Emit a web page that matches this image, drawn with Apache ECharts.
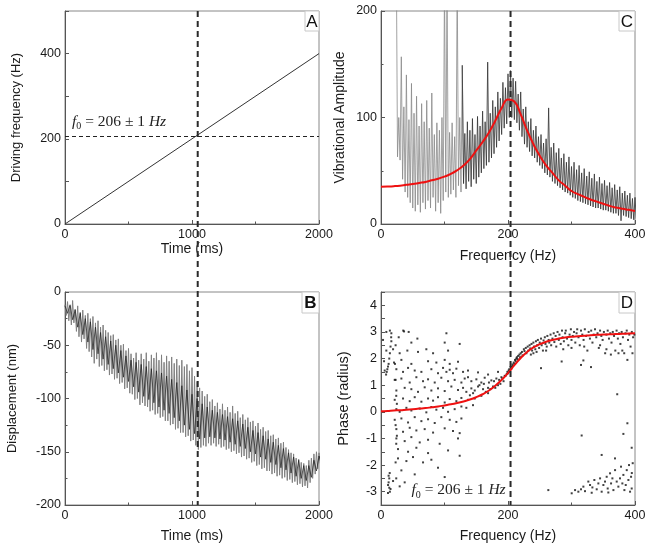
<!DOCTYPE html>
<html><head><meta charset="utf-8">
<script src="https://cdn.jsdelivr.net/npm/echarts@6/dist/echarts.min.js"></script>
<style>html,body{margin:0;padding:0;background:#fff}#c{width:649px;height:549px}</style>
</head><body><div id="c"></div>
<script>
// ---------- DATA ----------
// Panel A: linear frequency sweep
const aSweep = [[0, 0], [2000, 400]];
const f0Hz = 206;           // resonance, horizontal dashed line in A
const markTime = 1045;      // vertical dashed line (ms) in A/B
const markFreq = 204;       // vertical dashed line (Hz) in C/D

// Panel B: displacement signal, outer upper / lower swings every bStep ms
const bStep = 20;
const bUpper = [-12,-9,-13,-8,-16,-13,-19,-17,-22,-20,-25,-23,-29,-27,-33,-31,-36,-38,-41,-40,
  -45,-44,-50,-49,-55,-53,-58,-62,-57,-64,-58,-63,-57,-65,-59,-62,-57,-64,-59,-66,
  -60,-65,-61,-67,-63,-69,-64,-70,-68,-74,-71,-79,-84,-90,-93,-98,-96,-103,-101,-107,
  -104,-110,-105,-111,-108,-113,-107,-114,-112,-118,-115,-120,-118,-122,-121,-126,-123,-129,-127,-131,
  -130,-135,-134,-138,-137,-142,-141,-146,-148,-151,-152,-156,-157,-160,-161,-163,-158,-156,-152,-150,-151];
const bLower = [-22,-27,-31,-29,-37,-42,-47,-44,-53,-56,-61,-67,-63,-70,-69,-74,-73,-78,-77,-82,
  -81,-86,-85,-91,-90,-95,-96,-101,-100,-106,-104,-107,-108,-112,-111,-115,-114,-118,-117,-121,
  -121,-125,-124,-129,-128,-132,-132,-136,-135,-140,-139,-144,-148,-146,-144,-145,-142,-144,-142,-145,
  -143,-146,-145,-148,-147,-150,-149,-152,-151,-155,-154,-157,-156,-160,-159,-163,-162,-166,-165,-168,
  -168,-171,-170,-173,-172,-175,-174,-177,-176,-179,-178,-181,-180,-183,-182,-184,-179,-175,-171,-166,-161];
// Panel B: darker inner core swings every bCoreStep ms
const bCoreStep = 40;
const bCoreUpper = [-13,-12,-17,-20,-25,-28,-33,-38,-42,-46,-50,-55,-60,-64,-66,-68,-70,-72,-74,-76,
  -79,-82,-85,-88,-92,-96,-100,-105,-108,-111,-113,-115,-117,-119,-121,-124,-127,-130,-132,-135,
  -138,-141,-144,-147,-151,-155,-158,-163,-163,-158,-154];
const bCoreLower = [-20,-26,-33,-40,-47,-54,-58,-63,-68,-72,-76,-80,-84,-89,-94,-98,-101,-104,-108,-111,
  -114,-118,-121,-125,-129,-133,-138,-137,-136,-137,-138,-139,-141,-143,-145,-147,-150,-152,-155,-157,
  -160,-162,-165,-167,-170,-173,-175,-177,-174,-168,-162];

// Panel C: amplitude spectrum, upper / lower swings every cStep Hz from cStart
const cStart = 24, cStep = 4;
const cUpper = [260,100,157,110,140,98,132,104,120,92,113,96,116,90,123,84,95,88,100,
  230,230,86,95,82,230,100,149,85,96,88,99,84,101,92,106,96,152,104,116,110,124,118,133,128,
  141,144,137,134,122,124,108,110,96,99,88,92,82,84,76,80,109,72,76,67,71,62,66,58,63,
  54,58,51,55,48,52,45,49,43,47,40,44,38,41,36,39,34,37,32,35,29,31,27,29,24,
  25];
const cLower = [63,60,42,30,25,20,15,12,18,11,20,14,22,15,25,12,20,10,22,
  30,25,28,32,25,36,30,38,33,40,35,42,38,44,48,52,55,58,62,66,72,78,84,90,94,
  100,100,98,95,88,82,75,72,68,64,62,58,55,52,48,46,44,40,38,36,34,32,30,29,27,
  25,24,22,21,20,19,18,17,16,15,15,14,13,13,12,11,10,10,8,3,8,7,6,5,4,
  5];
const cLightCount = 27;     // swings drawn in lighter grey (low-frequency part)
// Panel C: fitted resonance curve every 10 Hz from 0 to 400
const cFitStep = 10;
const cFit = [35,35.2,35.5,36,36.8,37.5,38.5,39.5,41,42.5,44.5,47,50.5,55,61,69,77,86,97,109,
  117,115,103,88,75,64,55,48,41,36,31,28,25.5,23,21,19,17,15.5,14.3,13.3,12.3];

// Panel D: phase scatter [Hz, rad]
const dPoints = [
  [8.4,3.0],[16.3,2.95],[36.3,3.02],[43.6,3.0],[103,2.95],[14,3.05],[35,3.05],
  [3.2,2.7],[16.3,2.65],[27.9,2.8],[47.8,2.6],[57.3,2.75],[100.3,2.6],[123.9,2.55],
  [8.4,2.3],[19,2.35],[29.4,2.2],[41.5,2.3],[58.3,2.25],[71.4,2.35],[82,2.2],[105.6,2.3],
  [4.8,1.9],[20.5,1.85],[32.1,1.95],[47.8,1.8],[74.1,1.9],[87.2,1.85],[100.3,1.95],[108.2,1.8],[121.3,1.88],
  [5.8,1.55],[24.2,1.6],[34.7,1.5],[42.6,1.65],[53.1,1.55],[63.6,1.5],[79.3,1.6],[89.8,1.45],[97.7,1.65],[103,1.5],
  [108.2,1.58],[113.4,1.45],[118.7,1.62],[129.2,1.5],[137,1.55],[152.8,1.48],[168.6,1.4],[184.3,1.5],
  [21.6,1.2],[32.1,1.25],[45.2,1.1],[55.7,1.3],[66.2,1.15],[74.1,1.22],[84.6,1.1],[95,1.28],[105.6,1.15],[116,1.2],
  [126.6,1.1],[131.8,1.25],[137,1.3],[142.3,1.15],[150.2,1.22],[158,1.1],[163.3,1.28],[173.8,1.18],[181.7,1.25],[189.6,1.3],[194.8,1.35],
  [24.2,0.8],[37.3,0.9],[47.8,0.85],[58.3,0.75],[68.8,0.92],[79.3,0.8],[89.8,0.88],[100.3,0.78],[110.8,0.95],[121.3,0.82],
  [129.2,0.9],[134.4,0.75],[142.3,0.88],[147.6,0.8],[152.8,0.95],[160.7,0.85],[168.6,0.9],[176.4,0.95],[184.3,1.0],
  [21.6,0.45],[34.7,0.5],[45.2,0.4],[53.1,0.55],[63.6,0.38],[74.1,0.5],[82,0.42],[89.8,0.55],[100.3,0.35],[108.2,0.48],
  [118.7,0.4],[126.6,0.52],[137,0.45],[147.6,0.5],[158,0.6],[168.6,0.7],
  [24.2,0.1],[29.4,0.0],[40,0.15],[47.8,0.05],[61,0.12],[71.4,-0.02],[79.3,0.18],[87.2,0.08],[97.7,0.15],[105.6,0.0],
  [116,0.1],[126.6,0.2],[134.4,0.15],[144.9,0.25],
  [21.6,-0.3],[32.1,-0.25],[42.6,-0.4],[53.1,-0.2],[63.6,-0.35],[74.1,-0.28],[84.6,-0.42],[95,-0.2],[108.2,-0.3],[118.7,-0.38],[126.6,-0.25],
  [24.2,-0.65],[34.7,-0.75],[45.2,-0.6],[55.7,-0.7],[68.8,-0.65],[82,-0.78],[100.3,-0.62],[113.4,-0.72],[123.9,-0.8],
  [24.2,-1.0],[37.3,-1.1],[47.8,-0.95],[61,-1.15],[74.1,-1.05],[92.4,-1.2],[121.3,-1.0],
  [26.8,-1.4],[42.6,-1.5],[55.7,-1.35],[74.1,-1.55],[105.6,-1.45],
  [26.8,-1.75],[40,-1.85],[50.4,-1.7],[66.2,-1.9],[79.3,-1.8],[123.9,-1.65],
  [13.7,-2.3],[32.1,-2.2],[53.1,-2.35],[89.8,-2.1],[100.3,-2.45],
  [11.1,-2.75],[19,-2.6],[29.4,-2.8],[37.3,-2.65],
  [8,1.4],[9,1.5],[10,1.6],[11,1.7],[12,1.8],[13,2.0],[14,2.2],[15,2.45],[16,2.8],
  [12,-2.4],[13,-2.5],[12,-2.65],[13,-2.85],[14,-3.0],[15,-2.9],[11,-3.05],
  [23,2.5],[23,1.2],[24,0.6],[23,-0.5],[24,-1.2],[23,-1.9],[24,-2.5],[25,0.3],[22,1.8],[25,-0.9],
  [155,1.0],[162,1.05],[170,1.1],[178,1.15],[186,1.2],[191,1.25],[165,0.75],[172,0.85],[180,0.9],[188,1.05],[193,1.15],[145,0.7],[140,0.62],
  [196,1.35],[198,1.42],[199,1.5],[200,1.45],[201,1.55],[202,1.6],[203,1.52],[204,1.68],[205,1.62],[206,1.7],[207,1.78],[208,1.72],
  [209,1.85],[210,1.8],[211,1.95],[212,1.9],[213,2.0],[214,2.05],[215,1.98],[216,2.1],[218,2.15],[219,2.05],[220,2.2],[222,2.25],
  [223,2.12],[225,2.35],[226,2.28],[228,2.4],[229,2.2],[231,2.45],[232,2.3],[234,2.5],[235,2.38],[237,2.55],[238,2.3],[240,2.6],
  [241,2.45],[243,2.35],[244,2.65],[246,2.5],[247,2.7],[249,2.4],[250,2.6],[252,2.75],[253,2.5],[255,2.3],[256,2.68],[258,2.8],
  [259,2.55],[261,2.45],[262,2.85],[264,2.7],[265,2.6],[267,2.9],[268,2.5],[270,2.75],[272,2.95],[273,2.62],[275,2.85],[276,2.45],
  [278,3.0],[280,2.7],[281,2.9],[283,2.55],[285,3.05],[286,2.8],[288,2.65],[290,2.95],[291,3.05],[293,2.75],[295,2.5],[297,2.9],
  [299,3.1],[300,2.7],[302,2.85],[304,3.0],[306,2.6],[308,2.95],[309,3.1],[311,2.8],[313,2.5],[315,3.05],[317,2.9],[319,2.7],
  [321,3.1],[323,2.85],[325,2.3],[327,3.0],[329,2.75],[331,3.05],[333,2.6],[335,2.9],[337,3.1],[339,2.8],[341,2.95],[343,2.4],
  [345,3.05],[347,2.85],[349,2.7],[351,3.0],[353,2.2],[355,2.9],[357,3.05],[359,2.75],[361,2.95],[363,2.6],[365,3.0],[367,2.85],
  [369,2.3],[371,3.05],[373,2.75],[375,2.95],[377,2.55],[379,3.0],[381,2.8],[383,2.2],[385,2.95],[387,3.05],[389,2.7],[391,2.9],
  [393,2.45],[395,3.0],[397,2.8],[399,2.9],[396,2.2],[240,2.2],[236,2.15],[245,2.25],[260,2.3],[287,2.35],[300,2.4],[320,2.45],
  [345,2.5],[355,2.35],[362,2.15],[374,2.2],[388,1.95],[380,2.3],
  [252,1.64],[284.5,1.89],[318.7,1.93],[330.7,1.68],[315,1.76],[372,0.66],[316,-0.89],[381.7,-0.83],[388,-0.43],[394.8,-1.35],
  [347.5,-1.62],[368.5,-1.75],[263.5,-2.94],[395,-2.3],
  [300.3,-3.06],[305.6,-2.94],[310.8,-3.0],[315,-2.91],[318.7,-2.81],[321.3,-2.98],[326.5,-2.62],[329.2,-2.75],[332.9,-2.84],
  [336,-2.56],[339.7,-2.91],[342.3,-2.69],[345,-2.5],[347.5,-3.0],[350.2,-2.75],[352.8,-2.62],[355.4,-2.44],[357,-2.88],
  [360.7,-2.31],[362.3,-2.69],[366,-2.94],[368.6,-2.19],[371.2,-2.62],[373.8,-2.81],[376.4,-2.5],[378,-2.06],[381.7,-2.37],
  [383.3,-2.94],[385.4,-2.75],[387,-2.19],[389.6,-2.56],[390.6,-2.0],[393.8,-2.44],[394.8,-2.88],[396.4,-1.93],[392.2,-3.0],
  [380.1,-2.69],[364.4,-2.5],[358,-3.03],[331.8,-3.04]
];
// Panel D: fitted phase curve every 10 Hz from 0 to 400
const dFitStep = 10;
const dFit = [0.02,0.03,0.05,0.06,0.08,0.1,0.12,0.14,0.17,0.2,0.24,0.28,0.33,0.39,0.46,0.55,0.66,0.8,0.98,1.2,
  1.45,1.75,2.02,2.25,2.42,2.54,2.63,2.7,2.75,2.79,2.82,2.84,2.86,2.88,2.89,2.9,2.91,2.92,2.93,2.94,2.95];

// ---------- BUILD SERIES DATA ----------
function zigzag(upper, lower, start, step) {
  const out = [];
  upper.forEach((u, i) => { const x = start + i * step; out.push([x, u]); out.push([x + step / 2, lower[i]]); });
  return out;
}
const bData = zigzag(bUpper, bLower, 0, bStep);
const bCoreData = zigzag(bCoreUpper, bCoreLower, 0, bCoreStep);
const cLightData = zigzag(cUpper.slice(0, cLightCount), cLower.slice(0, cLightCount), cStart, cStep);
const cDarkData = zigzag(cUpper.slice(cLightCount - 1), cLower.slice(cLightCount - 1),
  cStart + (cLightCount - 1) * cStep, cStep);
const cFitData = cFit.map((v, i) => [i * cFitStep, v]);
const dFitData = dFit.map((v, i) => [i * dFitStep, v]);

// ---------- LAYOUT / STYLE ----------
const FONT = '"Liberation Sans", Arial, sans-serif';
const SERIF = '"Liberation Serif", "DejaVu Serif", serif';
const TXT = '#1a1a1a', AX = '#555';
const GR = [
  {left: 65, top: 11, width: 254, height: 213},   // A
  {left: 65, top: 292, width: 254, height: 213},  // B
  {left: 381, top: 11, width: 254, height: 213},  // C
  {left: 381, top: 292, width: 254, height: 213}  // D
];

function axis(gi, min, max, interval, name, gap, nameSize, fmt, minor) {
  return {
    type: 'value', gridIndex: gi, min, max, interval, name,
    nameLocation: 'middle', nameGap: gap,
    nameTextStyle: {fontFamily: FONT, fontSize: nameSize, color: TXT},
    axisLine: {show: true, onZero: false, lineStyle: {color: AX, width: 1}},
    axisTick: {show: true, inside: true, length: 4, lineStyle: {color: AX}},
    minorTick: {show: minor, splitNumber: 2, length: 2.5, lineStyle: {color: AX}},
    axisLabel: {fontFamily: FONT, fontSize: 12.5, color: TXT, margin: 4, formatter: fmt},
    splitLine: {show: false}, minorSplitLine: {show: false}
  };
}
const plain = v => String(v);
const every200 = v => (v % 200 === 0 ? String(v) : '');
const ints = v => (Number.isInteger(v) ? String(v) : '');

const option = {
  animation: false,
  backgroundColor: '#fff',
  grid: GR.map(g => Object.assign({show: true, borderColor: '#888', borderWidth: 1, containLabel: false, outerBoundsMode: 'none'}, g)),
  xAxis: [
    axis(0, 0, 2000, 1000, 'Time (ms)', 15, 14, plain, true),
    axis(1, 0, 2000, 1000, 'Time (ms)', 24, 14, plain, true),
    axis(2, 0, 400, 200, 'Frequency (Hz)', 25, 14, plain, true),
    axis(3, 0, 400, 200, 'Frequency (Hz)', 24, 14, plain, true)
  ],
  yAxis: [
    axis(0, 0, 500, 100, 'Driving frequency (Hz)', 42, 13, every200, false),
    axis(1, -200, 0, 50, 'Displacement (nm)', 46, 13, plain, true),
    axis(2, 0, 200, 100, 'Vibrational Amplitude', 34, 14, plain, true),
    axis(3, -3.5, 4.5, 0.5, 'Phase (radius)', 30, 14.5, ints, false)
  ],
  series: [
    {type: 'line', xAxisIndex: 0, yAxisIndex: 0, data: aSweep, symbol: 'none',
     lineStyle: {color: '#333', width: 1},
     markLine: {silent: true, symbol: 'none', label: {show: false},
       lineStyle: {color: '#222', type: [4, 3], width: 1}, data: [{yAxis: f0Hz}]}},
    {type: 'line', xAxisIndex: 1, yAxisIndex: 1, data: bData, symbol: 'none',
     lineStyle: {color: '#808080', width: 1}},
    {type: 'line', xAxisIndex: 1, yAxisIndex: 1, data: bCoreData, symbol: 'none',
     lineStyle: {color: '#1e1e1e', width: 0.7}},
    {type: 'line', xAxisIndex: 2, yAxisIndex: 2, data: cLightData, symbol: 'none',
     lineStyle: {color: '#8a8a8a', width: 0.8}},
    {type: 'line', xAxisIndex: 2, yAxisIndex: 2, data: cDarkData, symbol: 'none',
     lineStyle: {color: '#333', width: 0.8}},
    {type: 'line', xAxisIndex: 2, yAxisIndex: 2, data: cFitData, symbol: 'none', smooth: true,
     lineStyle: {color: '#ee1111', width: 2}},
    {type: 'scatter', xAxisIndex: 3, yAxisIndex: 3, data: dPoints, symbol: 'rect', symbolSize: 2,
     itemStyle: {color: '#111'}},
    {type: 'line', xAxisIndex: 3, yAxisIndex: 3, data: dFitData, symbol: 'none', smooth: true,
     lineStyle: {color: '#ee1111', width: 2}}
  ]
};

const chart = echarts.init(document.getElementById('c'));
chart.setOption(option);

// ---------- ANNOTATIONS (positions derived from the axes) ----------
const px = (gi, pt) => chart.convertToPixel({xAxisIndex: gi, yAxisIndex: gi}, pt);
const vA = px(0, [markTime, 500]), vB = px(1, [markTime, -200]);
const vC = px(2, [markFreq, 200]), vD = px(3, [markFreq, -3.5]);
const dash = {stroke: '#2a2a2a', lineWidth: 2, lineDash: [6, 4]};

const f0Rich = {
  text: '{i|f}{s|0}{n| = 206 ± 1 }{i|Hz}',
  rich: {
    i: {fontFamily: SERIF, fontStyle: 'italic', fontSize: 15.5, lineHeight: 20, fill: '#222'},
    s: {fontFamily: SERIF, fontSize: 10, lineHeight: 12, verticalAlign: 'bottom', fill: '#222'},
    n: {fontFamily: SERIF, fontSize: 15.5, lineHeight: 20, fill: '#222'}
  },
  verticalAlign: 'middle', align: 'left'
};
const tA = px(0, [55, 240]);
const tD = px(3, [48, -2.94]);

function letterBox(id, g, letter, bold, w, h) {
  return {type: 'group', id, x: g.left + g.width - w, y: g.top, z: 50, children: [
    {type: 'rect', shape: {x: 0, y: 0, width: w, height: h}, style: {fill: '#fff', stroke: '#c8c8c8', lineWidth: 1}},
    {type: 'text', x: w / 2, y: h / 2 + 1, style: {text: letter, fontFamily: FONT, fontSize: 17,
      fontWeight: bold ? 'bold' : 'normal', fill: '#111', align: 'center', verticalAlign: 'middle'}}
  ]};
}

chart.setOption({graphic: [
  {type: 'line', id: 'vLeft', z: 40, shape: {x1: vA[0], y1: vA[1], x2: vB[0], y2: vB[1]}, style: dash},
  {type: 'line', id: 'vRight', z: 40, shape: {x1: vC[0], y1: vC[1], x2: vD[0], y2: vD[1]}, style: dash},
  {type: 'text', id: 'f0A', x: tA[0], y: tA[1], z: 45, style: Object.assign({}, f0Rich)},
  {type: 'text', id: 'f0D', x: tD[0], y: tD[1], z: 45, style: Object.assign({}, f0Rich)},
  letterBox('boxA', GR[0], 'A', false, 14, 20),
  letterBox('boxB', GR[1], 'B', true, 17, 21),
  letterBox('boxC', GR[2], 'C', false, 16, 20),
  letterBox('boxD', GR[3], 'D', false, 16, 21)
]});
</script>
</body></html>
